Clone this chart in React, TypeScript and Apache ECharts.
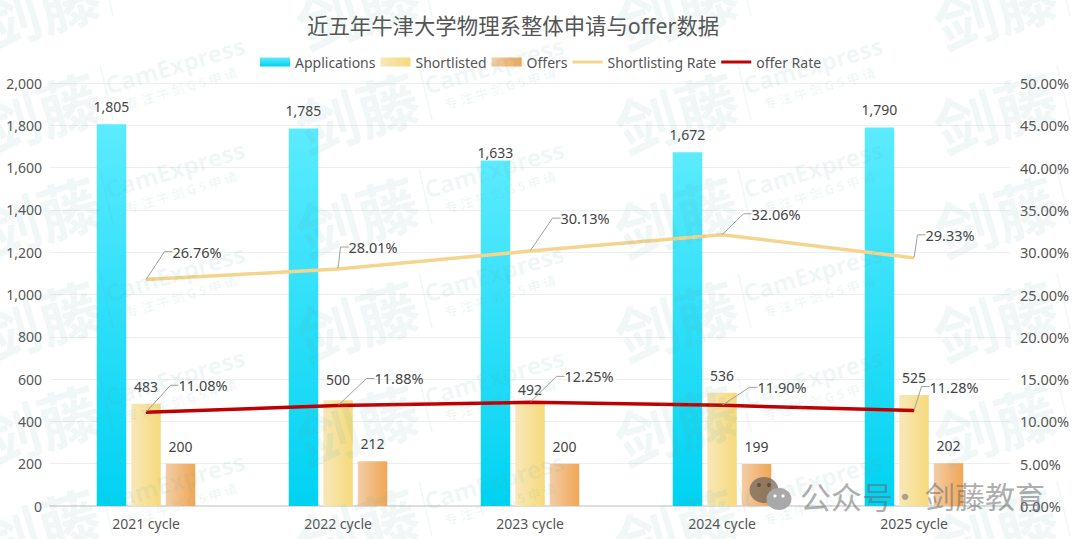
import React, { useEffect, useRef } from "react";
import * as echarts from "echarts";

const categories = ["2021 cycle", "2022 cycle", "2023 cycle", "2024 cycle", "2025 cycle"];
const applications = [1805, 1785, 1633, 1672, 1790];
const shortlisted = [483, 500, 492, 536, 525];
const offers = [200, 212, 200, 199, 202];
const shortlistingRate = [26.76, 28.01, 30.13, 32.06, 29.33];
const offerRate = [11.08, 11.88, 12.25, 11.9, 11.28];

const LEADER_GAP = 6;
const shortlistingLabelShift = [[21, -28], [5, -22], [25, -33], [24, -21], [6, -23]];
const offerLabelShift = [[27, -27], [31, -27], [29, -26], [30, -18], [10, -24]];
const applicationLabelShift = [0, 0, 9, 0, 0];
const shortlistedLabelShift = [0, -3, 5, 0, 0];

const FONT = "'Noto Sans', 'Noto Sans CJK SC', sans-serif";
const gradV = (a: string, b: string) => new echarts.graphic.LinearGradient(0, 0, 0, 1, [{ offset: 0, color: a }, { offset: 1, color: b }]);
const gradH = (a: string, b: string) => new echarts.graphic.LinearGradient(0, 0, 1, 0, [{ offset: 0, color: a }, { offset: 1, color: b }]);

const WM = "rgba(90,170,160,0.09)";
const WMZ = 100;
const ROT = 0.29;
const tileCx = [-144, 175, 494, 813, 1132];
const tileCy = [-39, 65, 169, 273, 377, 481];
const watermark: any[] = [];
tileCy.forEach((cy) => {
  tileCx.forEach((cx) => {
    const txt = (text: string, x: number, y: number, font: string) => ({
      type: "text", x, y, rotation: ROT, z: WMZ, silent: true,
      style: { text, fill: WM, font, align: "center", verticalAlign: "middle" },
    });
    if (cx - 137 < 1120 && cx - 137 > -60) watermark.push(txt("剑藤", cx - 137, cy + 46, "bold 62px 'Noto Sans CJK SC'"));
    if (cx > 40 && cx < 1100 && cy > 20) {
      watermark.push(txt("CamExpress", cx, cy, "bold 24px 'Noto Sans'"));
      if (cy < 500) watermark.push(txt("专 注 牛 剑 G 5 申 请", cx + 6, cy + 23, "bold 13px 'Noto Sans CJK SC'"));
    }
    watermark.push({ type: "line", z: WMZ, silent: true, shape: { x1: cx - 75, y1: cy, x2: cx - 62, y2: cy + 55 }, style: { stroke: WM, lineWidth: 1.5 } });
  });
});

const LOGO = "rgba(105,105,105,0.55)";
const logoMark: any[] = [
  { type: "ellipse", z: WMZ + 1, silent: true, shape: { cx: 764, cy: 490, rx: 14.5, ry: 13 }, style: { fill: "rgba(110,100,90,0.72)" } },
  { type: "ellipse", z: WMZ + 2, silent: true, shape: { cx: 779, cy: 499, rx: 12.5, ry: 11 }, style: { fill: "#a9a9a9" } },
  { type: "circle", z: WMZ + 3, silent: true, shape: { cx: 759, cy: 485, r: 2 }, style: { fill: "#5f5045" } },
  { type: "circle", z: WMZ + 3, silent: true, shape: { cx: 769, cy: 485, r: 2 }, style: { fill: "#5f5045" } },
  { type: "circle", z: WMZ + 3, silent: true, shape: { cx: 775, cy: 496, r: 1.6 }, style: { fill: "#ffffff" } },
  { type: "circle", z: WMZ + 3, silent: true, shape: { cx: 783, cy: 496, r: 1.6 }, style: { fill: "#ffffff" } },
  { type: "text", z: WMZ + 1, silent: true, x: 800, y: 495, style: { text: "公众号", fill: LOGO, font: "31px 'Noto Sans CJK SC'", verticalAlign: "middle" } },
  { type: "text", z: WMZ + 1, silent: true, x: 890, y: 495, style: { text: "·", fill: LOGO, font: "30px 'Noto Sans CJK SC'", verticalAlign: "middle" } },
  { type: "text", z: WMZ + 1, silent: true, x: 925, y: 495, style: { text: "剑藤教育", fill: LOGO, font: "30px 'Noto Sans CJK SC'", verticalAlign: "middle" } },
];

const lineLabel = (shift: number[][]) => ({
  labelLine: { show: true, smooth: false, length2: 8, lineStyle: { color: "#a0a0a0", width: 1 } },
  labelLayout: (p: any) => ({ dx: shift[p.dataIndex][0] - LEADER_GAP, dy: shift[p.dataIndex][1] }),
  label: { show: true, position: "right", distance: 5, padding: [0, 0, 0, LEADER_GAP], color: "#444", fontSize: 14.5, fontFamily: FONT, formatter: (p: any) => p.value.toFixed(2) + "%" },
});
const LINE_ICON = "path://M0,0H30V3H0Z";

export default function App() {
  const ref = useRef<HTMLDivElement>(null);
  useEffect(() => {
    const chart = echarts.init(ref.current!, undefined, { renderer: "svg" });
    chart.setOption({
      animation: false,
      backgroundColor: "#fff",
      textStyle: { fontFamily: FONT },
      title: { text: "近五年牛津大学物理系整体申请与offer数据", left: 302, top: 10, textStyle: { fontSize: 21.4, fontWeight: "normal", color: "#555", fontFamily: FONT } },
      legend: {
        top: 50, left: 255, itemWidth: 30, itemHeight: 9, itemGap: 5,
        textStyle: { fontSize: 14, color: "#555", fontFamily: FONT },
        data: [{ name: "Applications", icon: "rect" }, { name: "Shortlisted", icon: "rect" }, { name: "Offers", icon: "rect" }, { name: "Shortlisting Rate", icon: LINE_ICON }, { name: "offer Rate", icon: LINE_ICON }],
      },
      grid: { left: 50, right: 70, top: 83, bottom: 33 },
      xAxis: {
        type: "category", data: categories,
        axisLine: { lineStyle: { color: "#dedede", width: 2 } }, axisTick: { show: false },
        axisLabel: { color: "#555", fontSize: 14, margin: 10, fontFamily: FONT },
      },
      yAxis: [
        { type: "value", min: 0, max: 2000, interval: 200, axisLine: { show: false }, axisTick: { show: false }, splitLine: { lineStyle: { color: "#eeeeee" } }, axisLabel: { color: "#555", fontSize: 14, margin: 8, padding: [0, 0, 2, 0], fontFamily: FONT } },
        { type: "value", min: 0, max: 50, interval: 5, axisLine: { show: false }, axisTick: { show: false }, splitLine: { show: false }, axisLabel: { color: "#555", fontSize: 14.5, margin: 10, padding: [0, 0, 2, 0], fontFamily: FONT, formatter: (v: number) => v.toFixed(2) + "%" } },
      ],
      graphic: [...watermark, ...logoMark],
      series: [
        { name: "Applications", type: "bar", data: applications, barWidth: 29.5, barGap: "17%", itemStyle: { color: gradV("#5cebff", "#00d2f2") },
          label: { show: true, position: "top", distance: 10.5, color: "#444", fontSize: 14, fontFamily: FONT, formatter: (p: any) => p.value.toLocaleString("en-US") },
          labelLayout: (p: any) => ({ dy: applicationLabelShift[p.dataIndex] }) },
        { name: "Shortlisted", type: "bar", data: shortlisted, barWidth: 29.5, itemStyle: { color: gradH("#f7e8b8", "#f6da7c") },
          label: { show: true, position: "top", distance: 10.5, color: "#444", fontSize: 14, fontFamily: FONT },
          labelLayout: (p: any) => ({ dy: shortlistedLabelShift[p.dataIndex] }) },
        { name: "Offers", type: "bar", data: offers, barWidth: 29.5, itemStyle: { color: gradH("#f3cda6", "#f0a755") },
          label: { show: true, position: "top", distance: 10.5, color: "#444", fontSize: 14, fontFamily: FONT } },
        { name: "Shortlisting Rate", type: "line", yAxisIndex: 1, data: shortlistingRate, showSymbol: true, showAllSymbol: true, symbol: "circle", symbolSize: 1, lineStyle: { color: "#f5d48e", width: 3.5 }, itemStyle: { color: "#f5d48e" }, ...lineLabel(shortlistingLabelShift) },
        { name: "offer Rate", type: "line", yAxisIndex: 1, data: offerRate, showSymbol: true, showAllSymbol: true, symbol: "circle", symbolSize: 1, lineStyle: { color: "#c00000", width: 3.5 }, itemStyle: { color: "#c00000" }, ...lineLabel(offerLabelShift) },
      ],
    });
    return () => chart.dispose();
  }, []);
  return <div ref={ref} style={{ width: 1080, height: 539, position: "absolute", left: 0, top: 0 }} />;
}
